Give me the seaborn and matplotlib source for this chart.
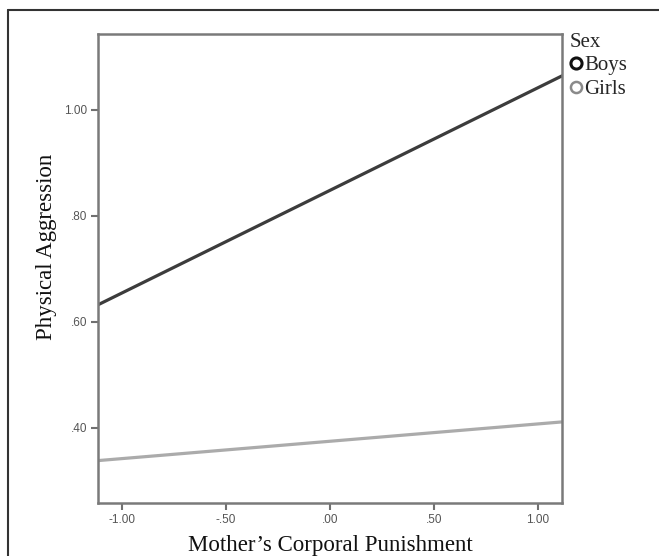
import matplotlib
matplotlib.use("Agg")
import matplotlib.pyplot as plt
from matplotlib.lines import Line2D
import seaborn as sns
import pandas as pd

# Data
sex = ["Boys", "Boys", "Girls", "Girls"]
punishment = [-1.115, 1.115, -1.115, 1.115]
aggression = [0.632, 1.064, 0.338, 0.411]
xtick_vals = [-1.0, -0.5, 0.0, 0.5, 1.0]
xtick_labels = ["-1.00", "-.50", ".00", ".50", "1.00"]
ytick_vals = [0.4, 0.6, 0.8, 1.0]
ytick_labels = [".40", ".60", ".80", "1.00"]

df = pd.DataFrame({"Sex": sex, "Punishment": punishment, "Aggression": aggression})

sns.set_style("white")
fig = plt.figure(figsize=(6.59, 5.56), dpi=100)
ax = fig.add_axes([98/659, 1-503/556, (562-98)/659, (503-34)/556])

palette = {"Boys": "#3c3c3c", "Girls": "#ababab"}
sns.lineplot(data=df, x="Punishment", y="Aggression", hue="Sex", palette=palette,
             linewidth=2.3, legend=False, ax=ax)

ax.set_xlim(-1.115, 1.115)
ax.set_ylim(0.258, 1.143)
ax.set_xticks(xtick_vals)
ax.set_xticklabels(xtick_labels)
ax.set_yticks(ytick_vals)
ax.set_yticklabels(ytick_labels)
ax.tick_params(axis="both", which="both", direction="out", length=5, width=1.5,
               color="#707070", labelcolor="#555555", labelsize=8.5, pad=3,
               bottom=True, left=True)
for lab in ax.get_xticklabels() + ax.get_yticklabels():
    lab.set_family("Liberation Sans")
for s in ax.spines.values():
    s.set_color("#7a7a7a")
    s.set_linewidth(1.8)

serif = "Liberation Serif"
ax.set_xlabel("Mother\u2019s Corporal Punishment", fontsize=16.5, family=serif, color="#111111")
ax.set_ylabel("Physical Aggression", fontsize=16.5, family=serif, color="#111111")
ax.xaxis.set_label_coords(0.5, (503-535)/469)
ax.yaxis.set_label_coords((57-98)/464, (503-247)/469)

handles = [Line2D([], [], linestyle="none", marker="o", markersize=8, markerfacecolor="none",
                  markeredgecolor="#111111", markeredgewidth=2.2),
           Line2D([], [], linestyle="none", marker="o", markersize=8, markerfacecolor="none",
                  markeredgecolor="#8a8a8a", markeredgewidth=1.8)]
leg = fig.legend(handles, ["Boys", "Girls"], title="Sex", loc="upper left",
                 bbox_to_anchor=(555/659, 1-18/556), frameon=False,
                 prop={"family": serif, "size": 15}, handlelength=0.6, handletextpad=0.1,
                 labelspacing=0.2, borderpad=0.2, alignment="left")
leg.get_title().set_fontfamily(serif)
leg.get_title().set_fontsize(15)

# outer frame (top and left edges)
fig.add_artist(Line2D([8/659, 8/659], [0, 1-10/556], transform=fig.transFigure,
                      color="#333333", linewidth=1.5))
fig.add_artist(Line2D([8/659, 1], [1-10/556, 1-10/556], transform=fig.transFigure,
                      color="#333333", linewidth=1.5))

fig.savefig("out.png", dpi=100)
